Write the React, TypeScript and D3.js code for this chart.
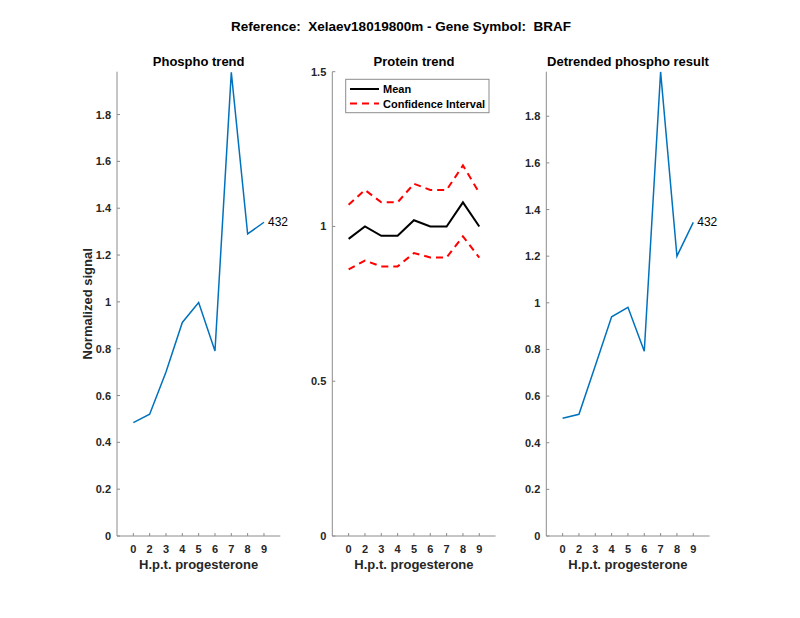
import * as d3 from 'd3';
import { useRef, useEffect } from 'react';

const tickLabels = ['0', '2', '3', '4', '5', '6', '7', '8', '9'];
const phospho = [0.484, 0.52, 0.70, 0.912, 0.997, 0.79, 1.98, 1.29, 1.34];
const detrended = [0.505, 0.522, 0.73, 0.94, 0.981, 0.792, 1.99, 1.20, 1.345];
const proteinMean = [0.96, 1.0, 0.97, 0.97, 1.02, 1.0, 1.0, 1.078, 1.0];
const proteinUpper = [1.07, 1.118, 1.078, 1.078, 1.138, 1.118, 1.118, 1.197, 1.109];
const proteinLower = [0.861, 0.89, 0.871, 0.871, 0.914, 0.90, 0.90, 0.968, 0.899];
const phosphoYTicks = [0, 0.2, 0.4, 0.6, 0.8, 1, 1.2, 1.4, 1.6, 1.8];
const proteinYTicks = [0, 0.5, 1, 1.5];
const peptideId = '432';

const FONT = '"Liberation Sans", Arial, Helvetica, sans-serif';
const TEXT = '#262626';
const AXIS = '#8c8c8c';

const App = () => {
  const svgRef = useRef<SVGSVGElement | null>(null);

  useEffect(() => {
    const svg = d3.select(svgRef.current);
    svg.selectAll('*').remove();
    svg.attr('width', 800).attr('height', 618).style('font-family', FONT);

    const top = 71.7;
    const bottom = 536;
    const axW = 163.3;

    svg.append('text')
      .attr('x', 401).attr('y', 31)
      .attr('text-anchor', 'middle')
      .attr('font-size', 13.5).attr('font-weight', 'bold').attr('fill', '#000')
      .attr('xml:space', 'preserve')
      .text('Reference:  Xelaev18019800m - Gene Symbol:  BRAF');

    const panel = (left: number, title: string, yMax: number, yTicks: number[], fmt: (v: number) => string) => {
      const x = d3.scaleLinear().domain([0, 10]).range([left, left + axW]);
      const y = d3.scaleLinear().domain([0, yMax]).range([bottom, top]);
      const g = svg.append('g');

      // axes lines
      g.append('line').attr('x1', left).attr('x2', left).attr('y1', top).attr('y2', bottom)
        .attr('stroke', AXIS).attr('stroke-width', 1);
      g.append('line').attr('x1', left).attr('x2', left + axW).attr('y1', bottom).attr('y2', bottom)
        .attr('stroke', AXIS).attr('stroke-width', 1);

      // y ticks
      yTicks.forEach((t) => {
        g.append('line').attr('x1', left).attr('x2', left + 3).attr('y1', y(t)).attr('y2', y(t))
          .attr('stroke', AXIS);
        g.append('text').attr('x', left - 6).attr('y', y(t) + 4)
          .attr('text-anchor', 'end').attr('font-size', 11).attr('font-weight', 'bold')
          .attr('fill', TEXT).text(fmt(t));
      });

      // x ticks
      tickLabels.forEach((lab, i) => {
        g.append('line').attr('x1', x(i + 1)).attr('x2', x(i + 1)).attr('y1', bottom).attr('y2', bottom - 3)
          .attr('stroke', AXIS);
        g.append('text').attr('x', x(i + 1)).attr('y', 552.5)
          .attr('text-anchor', 'middle').attr('font-size', 11).attr('font-weight', 'bold')
          .attr('fill', TEXT).text(lab);
      });

      g.append('text').attr('x', left + axW / 2).attr('y', 569)
        .attr('text-anchor', 'middle').attr('font-size', 13).attr('font-weight', 'bold')
        .attr('fill', TEXT).text('H.p.t. progesterone');

      g.append('text').attr('x', left + axW / 2).attr('y', 65.5)
        .attr('text-anchor', 'middle').attr('font-size', 13).attr('font-weight', 'bold')
        .attr('fill', '#000').text(title);

      return { g, x, y };
    };

    const fmt = (v: number) => d3.format('~g')(v);

    const drawSeries = (p: { g: any; x: any; y: any }, vals: number[], color: string, width: number, dash?: string) => {
      const line = d3.line<number>().x((_, i) => p.x(i + 1)).y((d) => p.y(d));
      const path = p.g.append('path').datum(vals)
        .attr('d', line).attr('fill', 'none')
        .attr('stroke', color).attr('stroke-width', width)
        .attr('stroke-linejoin', 'miter');
      if (dash) path.attr('stroke-dasharray', dash);
    };

    // Left
    const p1 = panel(117, 'Phospho trend', 1.983, phosphoYTicks, fmt);
    drawSeries(p1, phospho, '#0072BD', 1.5);
    p1.g.append('text').attr('x', p1.x(9) + 4).attr('y', p1.y(phospho[8]) + 4)
      .attr('font-size', 12).attr('fill', '#000').text(peptideId);
    svg.append('text')
      .attr('transform', `translate(92,${(top + bottom) / 2}) rotate(-90)`)
      .attr('text-anchor', 'middle').attr('font-size', 13).attr('font-weight', 'bold')
      .attr('fill', TEXT).text('Normalized signal');

    // Middle
    const p2 = panel(332.3, 'Protein trend', 1.5, proteinYTicks, fmt);
    drawSeries(p2, proteinUpper, '#ff0000', 2, '7,5');
    drawSeries(p2, proteinLower, '#ff0000', 2, '7,5');
    drawSeries(p2, proteinMean, '#000', 2);

    const leg = p2.g.append('g');
    leg.append('rect').attr('x', 345.7).attr('y', 79.3).attr('width', 143.3).attr('height', 33.4)
      .attr('fill', '#fff').attr('stroke', AXIS).attr('stroke-width', 1);
    leg.append('line').attr('x1', 350).attr('x2', 379).attr('y1', 89).attr('y2', 89)
      .attr('stroke', '#000').attr('stroke-width', 2);
    leg.append('line').attr('x1', 350).attr('x2', 379).attr('y1', 103.5).attr('y2', 103.5)
      .attr('stroke', '#ff0000').attr('stroke-width', 2).attr('stroke-dasharray', '7,5');
    leg.append('text').attr('x', 383).attr('y', 93).attr('font-size', 11).attr('font-weight', 'bold')
      .attr('fill', '#000').text('Mean');
    leg.append('text').attr('x', 383).attr('y', 107.5).attr('font-size', 11).attr('font-weight', 'bold')
      .attr('fill', '#000').text('Confidence Interval');

    // Right
    const p3 = panel(546.3, 'Detrended phospho result', 1.991, phosphoYTicks, fmt);
    drawSeries(p3, detrended, '#0072BD', 1.5);
    p3.g.append('text').attr('x', p3.x(9) + 4).attr('y', p3.y(detrended[8]) + 4)
      .attr('font-size', 12).attr('fill', '#000').text(peptideId);
  }, []);

  return (
    <div style={{ position: 'fixed', left: 0, top: 0, width: 800, height: 618, background: '#fff' }}>
      <svg ref={svgRef} />
    </div>
  );
};

export default App;
